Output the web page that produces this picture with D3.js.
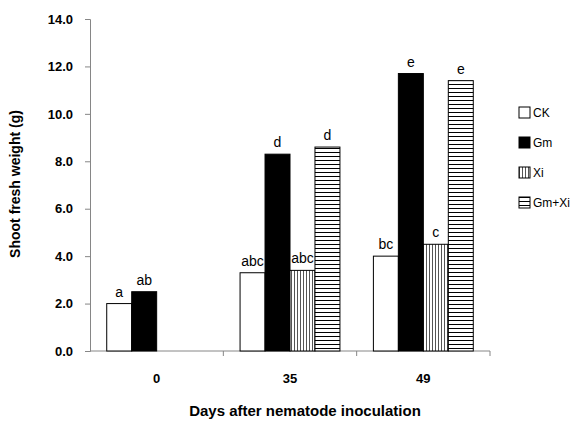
<!DOCTYPE html>
<html>
<head>
<meta charset="utf-8">
<script src="https://cdn.jsdelivr.net/npm/d3@7"></script>
<style>
  body { margin: 0; background: #fff; }
  text { font-family: "Liberation Sans", Arial, sans-serif; }
</style>
</head>
<body>
<div id="chart"></div>
<script>
// chart size
var width = 582;
var height = 425;

// data
var days = ["0", "35", "49"];
var series = ["CK", "Gm", "Xi", "Gm+Xi"];
var ck    = [2.0, 3.3, 4.0];
var gm    = [2.5, 8.3, 11.7];
var xi    = [null, 3.4, 4.5];
var gmxi  = [null, 8.6, 11.4];
var ckLab   = ["a", "abc", "bc"];
var gmLab   = ["ab", "d", "e"];
var xiLab   = ["", "abc", "c"];
var gmxiLab = ["", "d", "e"];
var yTicks = [0, 2, 4, 6, 8, 10, 12, 14];

var values = [ck, gm, xi, gmxi];
var labels = [ckLab, gmLab, xiLab, gmxiLab];

var margin = {left: 90, right: 92, top: 19, bottom: 74};

var svg = d3.select("#chart")
    .append("svg")
    .attr("width", width)
    .attr("height", height);

// patterns for Xi (vertical) and Gm+Xi (horizontal)
var defs = svg.append("defs");
var pv = defs.append("pattern")
    .attr("id", "vert")
    .attr("patternUnits", "userSpaceOnUse")
    .attr("width", 3).attr("height", 10);
pv.append("rect").attr("width", 3).attr("height", 10).attr("fill", "#fff");
pv.append("rect").attr("width", 1).attr("height", 10).attr("fill", "#555");

var ph = defs.append("pattern")
    .attr("id", "horiz")
    .attr("patternUnits", "userSpaceOnUse")
    .attr("width", 10).attr("height", 4);
ph.append("rect").attr("width", 10).attr("height", 4).attr("fill", "#fff");
ph.append("rect").attr("width", 10).attr("height", 1).attr("fill", "#000");

var fills = ["#fff", "#000", "url(#vert)", "url(#horiz)"];

// scales
var x0 = d3.scaleBand()
    .domain(days)
    .range([margin.left, width - margin.right])
    .padding(0);

var x1 = d3.scaleBand()
    .domain(series)
    .range([0, x0.bandwidth()])
    .paddingInner(0)
    .paddingOuter(0.67);

var y = d3.scaleLinear()
    .domain([0, 14])
    .range([height - margin.bottom, margin.top]);

// y axis
var yAxis = svg.append("g")
    .attr("transform", "translate(" + margin.left + ",0)")
    .call(d3.axisLeft(y).tickValues(yTicks).tickSize(5).tickPadding(12)
        .tickFormat(d3.format(".1f")));
yAxis.selectAll("path, line").attr("stroke", "#868686");
yAxis.selectAll("text")
    .style("font-size", "13px")
    .style("font-weight", "bold")
    .attr("fill", "#000");

// x axis
var xAxis = svg.append("g")
    .attr("transform", "translate(0," + y(0) + ")");
xAxis.append("line")
    .attr("x1", margin.left).attr("x2", width - margin.right)
    .attr("stroke", "#868686");
xAxis.selectAll(".tk")
    .data(days)
    .enter()
    .append("line")
    .attr("x1", function (d) { return x0(d) + x0.bandwidth(); })
    .attr("x2", function (d) { return x0(d) + x0.bandwidth(); })
    .attr("y1", 0).attr("y2", 5)
    .attr("stroke", "#868686");
xAxis.selectAll(".tl")
    .data(days)
    .enter()
    .append("text")
    .attr("x", function (d) { return x0(d) + x0.bandwidth() / 2; })
    .attr("y", 32)
    .attr("text-anchor", "middle")
    .style("font-size", "13px")
    .style("font-weight", "bold")
    .text(function (d) { return d; });

// bars
series.forEach(function (s, si) {
    var g = svg.append("g");
    days.forEach(function (d, di) {
        var v = values[si][di];
        if (v == null) return;
        var bx = x0(d) + x1(s);
        g.append("rect")
            .attr("x", bx)
            .attr("y", y(v))
            .attr("width", x1.bandwidth())
            .attr("height", y(0) - y(v))
            .attr("fill", fills[si])
            .attr("stroke", "#000")
            .attr("stroke-width", 1);
        g.append("text")
            .attr("x", bx + x1.bandwidth() / 2)
            .attr("y", y(v) - 7)
            .attr("text-anchor", "middle")
            .style("font-size", "14px")
            .text(labels[si][di]);
    });
});

// axis titles
svg.append("text")
    .attr("transform", "translate(20,184) rotate(-90)")
    .attr("text-anchor", "middle")
    .style("font-size", "14px")
    .style("font-weight", "bold")
    .text("Shoot fresh weight (g)");

svg.append("text")
    .attr("x", 305)
    .attr("y", 416)
    .attr("text-anchor", "middle")
    .style("font-size", "15px")
    .style("font-weight", "bold")
    .text("Days after nematode inoculation");

// legend
var legend = svg.selectAll(".legend")
    .data(series)
    .enter()
    .append("g")
    .attr("transform", function (d, i) { return "translate(519," + (107 + i * 30) + ")"; });
legend.append("rect")
    .attr("width", 11).attr("height", 11)
    .attr("fill", function (d, i) { return fills[i]; })
    .attr("stroke", "#000");
legend.append("text")
    .attr("x", 14).attr("y", 10)
    .style("font-size", "12px")
    .text(function (d) { return d; });
</script>
</body>
</html>
